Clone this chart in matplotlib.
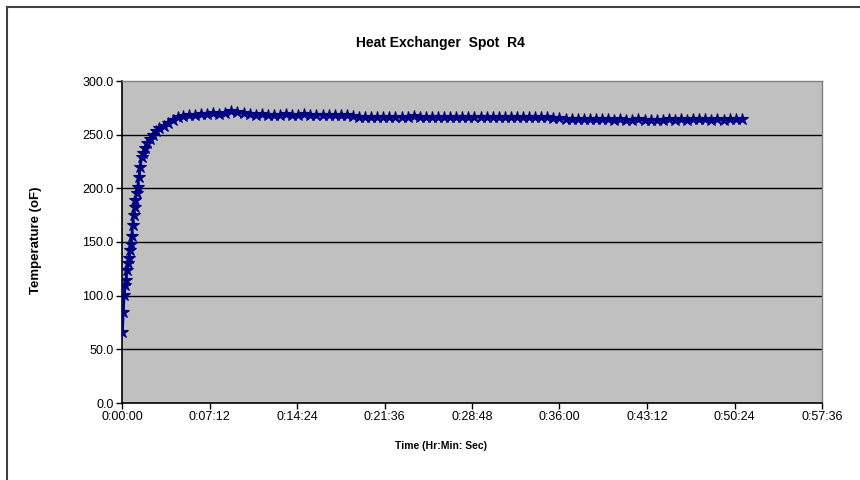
import numpy as np
import matplotlib
matplotlib.use("Agg")
import matplotlib.pyplot as plt
from matplotlib.lines import Line2D
from matplotlib.ticker import FixedLocator, FuncFormatter

plt.rcParams["font.family"] = ["Liberation Sans", "DejaVu Sans"]

# heat-up phase (seconds, deg F)
rise_t = [2, 6, 11, 16, 20, 24, 30, 35, 40, 44, 48, 53, 57, 62, 66, 72, 77,
          84, 90, 97, 105, 115, 125, 140, 155, 170, 185, 205, 225, 250, 275,
          300, 330, 360, 390]
rise_v = [66, 85, 101, 110, 115, 124, 130, 135, 143, 148, 156, 166, 175, 183,
          189, 196, 201, 211, 220, 229, 233, 238, 242, 246, 250, 253, 256, 258,
          261, 264, 266, 267, 268, 268.5, 269]

# steady phase, sampled every 30 s from 420 s to 3060 s
steady_t = [420, 450, 480, 510, 540, 570, 600, 630, 660, 690, 720, 750, 780,
            810, 840, 870, 900, 930, 960, 990, 1020, 1050, 1080, 1110, 1140,
            1170, 1200, 1230, 1260, 1290, 1320, 1350, 1380, 1410, 1440, 1470,
            1500, 1530, 1560, 1590, 1620, 1650, 1680, 1710, 1740, 1770, 1800,
            1830, 1860, 1890, 1920, 1950, 1980, 2010, 2040, 2070, 2100, 2130,
            2160, 2190, 2220, 2250, 2280, 2310, 2340, 2370, 2400, 2430, 2460,
            2490, 2520, 2550, 2580, 2610, 2640, 2670, 2700, 2730, 2760, 2790,
            2820, 2850, 2880, 2910, 2940, 2970, 3000, 3030, 3060]
steady_v = [269.2, 269.8, 269.0, 270.1, 271.6, 271.0, 270.2, 269.6, 268.4,
            268.9, 268.2, 268.7, 268.5, 268.9, 268.3, 268.6, 268.8, 268.4,
            268.7, 268.5, 268.6, 268.3, 268.7, 268.5, 267.2, 266.6, 266.9,
            266.4, 266.8, 266.5, 266.9, 266.3, 266.7, 266.6, 267.2, 266.5,
            266.8, 266.4, 266.7, 266.5, 266.6, 266.8, 266.4, 266.6, 266.5,
            266.7, 266.3, 266.6, 266.5, 266.7, 266.4, 266.6, 266.5, 266.2,
            266.6, 266.0, 266.4, 265.9, 265.2, 264.7, 264.9, 264.5, 264.8,
            264.3, 264.6, 264.2, 264.5, 263.9, 264.4, 264.1, 263.8, 264.2,
            264.0, 263.7, 264.1, 263.9, 264.3, 264.0, 264.4, 264.1, 264.6,
            264.2, 264.5, 264.0, 264.4, 264.1, 264.5, 264.2, 264.6]

x_ticks = [0, 432, 864, 1296, 1728, 2160, 2592, 3024, 3456]
y_ticks = [0, 50, 100, 150, 200, 250, 300]

t = np.array(rise_t + steady_t)
v = np.array(rise_v + steady_v)


def hms(s, pos=None):
    s = int(round(s))
    return "%d:%02d:%02d" % (s // 3600, (s % 3600) // 60, s % 60)


fig = plt.figure(figsize=(8.6, 4.8), dpi=100)
ax = fig.add_axes([122 / 860, 1 - 403 / 480, 700 / 860, 322 / 480])
ax.set_facecolor("#C0C0C0")

ax.plot(t, v, color="#000080", linewidth=2, marker="*", markersize=9,
        markeredgewidth=0.8, zorder=3)

ax.set_xlim(x_ticks[0], x_ticks[-1])
ax.set_ylim(y_ticks[0], y_ticks[-1])
ax.xaxis.set_major_locator(FixedLocator(x_ticks))
ax.yaxis.set_major_locator(FixedLocator(y_ticks))
ax.xaxis.set_major_formatter(FuncFormatter(hms))
ax.yaxis.set_major_formatter(FuncFormatter(lambda y, p: "%.1f" % y))
ax.tick_params(direction="out", length=4, width=1, labelsize=9, colors="black", pad=2)

for y in y_ticks[1:-1]:
    ax.axhline(y, color="black", linewidth=1, zorder=1)

for side in ["left", "bottom"]:
    ax.spines[side].set_color("black")
    ax.spines[side].set_linewidth(1.2)
for side in ["top", "right"]:
    ax.spines[side].set_color("#808080")
    ax.spines[side].set_linewidth(1)

fig.text(440 / 860, 1 - 43 / 480, "Heat Exchanger  Spot  R4", ha="center",
         va="center", fontsize=10, fontweight="bold")
fig.text(441 / 860, 1 - 446 / 480, "Time (Hr:Min: Sec)", ha="center",
         va="center", fontsize=7.5, fontweight="bold")
fig.text(36 / 860, 1 - 240 / 480, "Temperature (oF)", ha="center",
         va="center", rotation=90, fontsize=9.5, fontweight="bold")

# chart frame (only left and top edges are visible in the original)
fig.add_artist(Line2D([7 / 860, 7 / 860], [0, 1 - 7 / 480],
                      color="#404040", linewidth=1.5, transform=fig.transFigure))
fig.add_artist(Line2D([7 / 860, 1], [1 - 7 / 480, 1 - 7 / 480],
                      color="#404040", linewidth=1.5, transform=fig.transFigure))

fig.savefig("out.png", dpi=100)
